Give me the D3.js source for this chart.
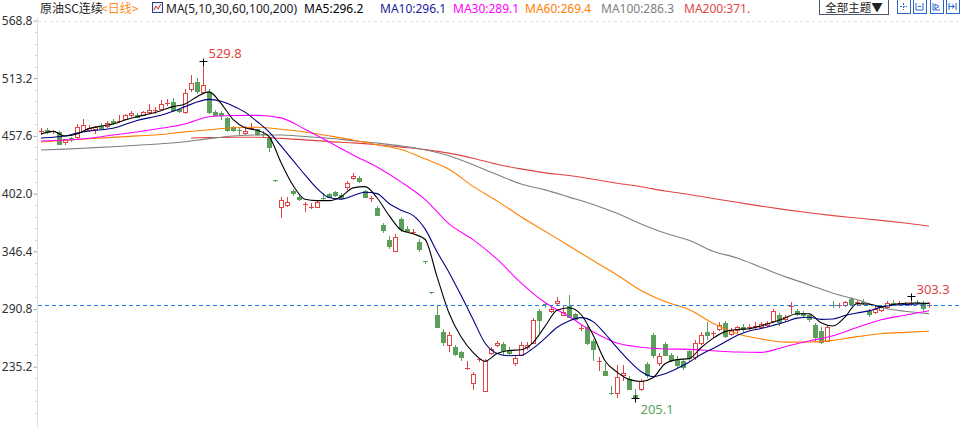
<!DOCTYPE html>
<html>
<head>
<meta charset="utf-8">
<script src="https://cdn.jsdelivr.net/npm/d3@7"></script>
<style>
  body { margin: 0; background: #fff; }
  svg { display: block; font-family: "Noto Sans", "Noto Sans CJK SC", sans-serif; }
</style>
</head>
<body>
<svg id="chart" width="960" height="428"></svg>
<script>
// 1) Data --------------------------------------------------------------
// daily candles, oldest first (day index 0..148)
const open = [
  462.0, 463.3, 461.8, 461.3, 451.7, 455.2, 456.8, 462.6, 463.3, 463.9,
  467.1, 467.1, 471.6, 471.0, 474.2, 477.4, 478.1, 478.1, 480.6, 481.9,
  483.2, 488.3, 490.2, 483.2, 480.6, 502.5, 509.5, 499.9, 499.9, 480.6,
  479.3, 474.8, 466.5, 463.2, 460.1, 464.8, 463.9, 459.2, 456.2, 415.0,
  389.4, 391.3, 404.2, 399.1, 390.7, 388.8, 389.4, 398.2, 401.6, 403.6,
  401.0, 408.7, 417.0, 417.0, 404.2, 396.8, 388.1, 371.4, 357.3, 347.0,
  377.8, 368.2, 364.6, 355.3, 336.6, 306.9, 285.3, 268.6, 255.8, 253.8,
  249.4, 233.6, 219.2, 242.0, 211.5, 248.7, 255.8, 257.1, 251.3, 239.1,
  246.8, 254.5, 258.3, 288.5, 295.2, 289.2, 296.3, 285.3, 293.7, 286.0,
  271.5, 273.8, 260.3, 240.1, 231.4, 210.0, 209.5, 227.5, 223.0, 207.5,
  213.4, 237.8, 265.4, 238.4, 257.1, 246.2, 242.6, 240.4, 250.6, 244.2,
  258.3, 268.6, 267.0, 271.2, 277.6, 266.7, 270.5, 273.8, 272.8, 274.0,
  273.8, 275.0, 278.9, 285.3, 280.8, 293.4, 288.5, 287.3, 285.3, 275.7,
  269.9, 260.3, 294.6, 294.0, 295.0, 300.1, 296.6, 297.8, 289.2, 287.9,
  289.8, 293.0, 296.6, 296.0, 295.9, 295.6, 297.8, 296.3, 293.9
];
const high = [
  464.9, 465.2, 463.3, 462.6, 454.9, 456.5, 469.0, 473.6, 467.8, 467.1,
  470.3, 472.3, 473.6, 477.4, 478.7, 481.3, 480.0, 481.9, 488.3, 485.1,
  492.2, 492.8, 494.1, 483.9, 503.1, 516.6, 513.4, 529.8, 502.5, 482.5,
  481.3, 476.1, 467.5, 465.0, 467.1, 470.3, 464.6, 462.6, 456.9, 415.2,
  398.4, 398.4, 406.1, 400.3, 393.9, 392.6, 395.2, 402.3, 402.9, 404.8,
  402.3, 414.4, 422.2, 418.9, 405.4, 399.7, 390.0, 373.3, 361.1, 363.0,
  379.1, 370.8, 367.6, 357.9, 336.8, 307.0, 293.7, 271.2, 268.6, 256.4,
  250.6, 241.0, 230.1, 243.6, 242.3, 254.5, 259.6, 259.0, 253.8, 245.5,
  259.0, 259.0, 282.1, 291.1, 296.9, 293.7, 302.7, 294.3, 304.6, 287.3,
  275.7, 275.7, 262.2, 244.2, 239.1, 216.6, 236.5, 236.5, 226.2, 214.0,
  223.0, 239.7, 267.3, 248.1, 259.0, 248.7, 245.5, 242.3, 252.6, 260.9,
  268.6, 278.3, 269.9, 278.3, 278.9, 272.5, 274.4, 276.3, 276.3, 278.3,
  278.3, 279.6, 291.1, 287.3, 284.7, 297.5, 291.1, 288.5, 287.3, 277.0,
  273.8, 274.4, 298.8, 296.3, 298.8, 302.0, 299.5, 300.1, 291.1, 293.7,
  294.3, 298.8, 299.5, 298.2, 297.5, 303.3, 299.5, 298.2, 297.5
];
const low = [
  459.4, 460.7, 460.7, 449.8, 450.1, 452.4, 454.3, 462.0, 462.0, 460.7,
  464.6, 466.5, 469.0, 470.7, 473.6, 476.8, 475.5, 477.4, 480.0, 480.0,
  482.5, 487.7, 481.9, 480.6, 479.3, 500.5, 498.6, 498.6, 479.3, 477.4,
  474.2, 462.0, 462.3, 459.6, 459.4, 464.6, 458.8, 456.9, 443.4, 413.8,
  379.8, 390.0, 400.3, 395.8, 385.6, 388.2, 388.8, 396.5, 398.4, 399.7,
  397.1, 406.7, 416.4, 413.2, 398.4, 394.6, 381.0, 365.0, 349.6, 347.0,
  365.6, 365.6, 363.7, 347.0, 335.6, 306.0, 273.1, 255.8, 250.6, 246.8,
  241.6, 233.3, 214.0, 240.4, 211.5, 247.4, 255.1, 247.4, 247.4, 236.5,
  246.2, 252.6, 257.7, 268.6, 293.0, 287.9, 295.6, 284.7, 282.8, 280.2,
  270.5, 257.1, 241.6, 232.0, 226.9, 208.9, 206.2, 222.4, 213.4, 205.1,
  212.7, 225.6, 244.9, 237.2, 246.2, 240.4, 234.6, 233.3, 241.6, 242.9,
  257.1, 262.2, 263.5, 270.5, 264.1, 265.4, 268.6, 269.9, 271.2, 272.5,
  272.5, 274.4, 278.2, 275.7, 278.9, 286.6, 284.7, 284.0, 278.9, 259.6,
  258.3, 259.6, 292.4, 293.0, 293.7, 294.9, 295.0, 295.6, 284.0, 287.3,
  289.2, 291.7, 294.3, 294.3, 294.3, 295.0, 295.6, 289.8, 293.0
];
const close = [
  462.3, 461.3, 462.2, 450.1, 454.3, 454.3, 466.5, 468.4, 465.2, 465.8,
  465.2, 469.7, 469.7, 471.9, 477.4, 479.3, 476.1, 480.6, 482.5, 482.9,
  488.3, 489.3, 482.5, 481.3, 498.6, 508.2, 500.5, 506.3, 480.6, 478.1,
  477.4, 463.3, 463.3, 462.4, 462.6, 465.4, 459.4, 458.6, 446.6, 414.0,
  395.8, 393.9, 403.0, 397.1, 391.6, 389.4, 393.9, 397.4, 399.0, 400.3,
  397.8, 412.5, 418.9, 414.4, 399.0, 397.4, 381.7, 366.9, 351.5, 359.8,
  368.2, 366.3, 365.2, 348.3, 336.0, 306.3, 273.8, 259.0, 265.4, 247.4,
  244.9, 234.2, 228.2, 242.6, 240.4, 251.9, 257.7, 251.3, 248.1, 243.6,
  256.4, 255.8, 280.2, 280.2, 294.6, 291.1, 298.8, 287.9, 283.4, 281.5,
  272.1, 257.7, 251.9, 240.7, 227.5, 209.2, 224.9, 229.4, 214.0, 206.3,
  221.7, 226.9, 246.2, 245.5, 246.8, 241.6, 236.8, 234.6, 243.6, 257.7,
  265.4, 266.1, 267.6, 275.7, 264.8, 270.5, 273.1, 271.2, 273.4, 274.8,
  276.3, 277.6, 288.5, 278.2, 283.4, 294.0, 286.0, 284.7, 280.8, 264.1,
  259.0, 273.1, 294.0, 294.6, 297.5, 295.6, 297.2, 297.2, 286.0, 291.1,
  293.0, 296.3, 296.0, 296.6, 295.3, 296.9, 297.2, 291.7, 294.7
];

// moving averages, fast ones every 2nd day, slow ones every 4th
const fastDays = [
  0, 2, 4, 6, 8, 10, 12, 14, 16, 18, 20, 22, 24, 26, 28, 30, 32, 34, 36, 38,
  40, 42, 44, 46, 48, 50, 52, 54, 56, 58, 60, 62, 64, 66, 68, 70, 72, 74, 76, 78,
  80, 82, 84, 86, 88, 90, 92, 94, 96, 98, 100, 102, 104, 106, 108, 110, 112, 114, 116, 118,
  120, 122, 124, 126, 128, 130, 132, 134, 136, 138, 140, 142, 144, 146, 148
];
const ma5 = [
  459.4, 462.0, 457.5, 459.4, 464.6, 467.1, 469.1, 472.9, 476.1, 478.7,
  481.9, 485.8, 488.3, 495.4, 500.0, 489.0, 473.5, 465.5, 463.0, 457.0,
  432.0, 410.0, 396.5, 395.2, 395.2, 399.0, 407.5, 408.7, 398.0, 381.0,
  367.0, 363.3, 358.0, 322.0, 287.0, 264.0, 249.0, 240.5, 248.0, 250.8,
  251.5, 258.5, 274.0, 289.5, 292.0, 285.5, 266.0, 241.0, 230.0, 223.0,
  221.0, 224.5, 238.0, 242.0, 243.0, 253.5, 262.5, 269.0, 271.0, 271.8,
  274.5, 278.0, 282.2, 286.2, 286.2, 277.5, 274.4, 283.0, 296.0, 295.5,
  293.0, 295.0, 296.3, 296.6, 296.2
];
const ma10 = [
  455.6, 456.3, 457.5, 460.3, 462.3, 463.5, 465.0, 468.5, 472.5, 475.0,
  477.5, 481.3, 485.8, 490.2, 492.8, 491.0, 486.5, 480.5, 471.5, 461.5,
  448.0, 434.0, 420.0, 407.0, 398.2, 396.5, 400.0, 403.3, 402.0, 392.5,
  386.0, 381.0, 368.0, 346.0, 326.0, 304.0, 281.0, 258.0, 248.0, 245.8,
  246.2, 252.9, 262.5, 273.0, 279.3, 282.5, 278.6, 267.0, 253.5, 241.0,
  230.5, 225.6, 228.5, 233.5, 239.5, 247.0, 252.8, 259.0, 265.2, 269.6,
  272.0, 275.0, 278.3, 282.0, 282.8, 280.8, 281.2, 284.5, 287.0, 289.0,
  292.6, 294.5, 295.1, 295.6, 296.1
];
const slowDays = [
  0, 4, 8, 12, 16, 20, 24, 28, 32, 36, 40, 44, 48, 52, 56, 60, 64, 68, 72, 76,
  80, 84, 88, 92, 96, 100, 104, 108, 112, 116, 120, 124, 128, 132, 136, 140, 144, 148
];
const ma30 = [
  452.7, 453.6, 455.4, 458.5, 461.4, 464.9, 469.1, 476.1, 477.2, 477.4,
  475.0, 464.0, 451.8, 439.3, 427.6, 413.3, 396.5, 372.8, 357.7, 338.9,
  316.0, 297.0, 283.5, 268.8, 258.0, 254.0, 252.3, 251.9, 250.5, 249.3,
  249.0, 254.5, 260.0, 265.0, 273.0, 280.5, 284.8, 289.1
];
const ma60 = [
  451.7, 453.4, 454.8, 456.2, 457.6, 459.0, 461.5, 463.5, 465.5, 466.0,
  464.0, 461.4, 457.7, 453.7, 449.0, 444.5, 435.5, 425.5, 409.0, 395.0,
  379.7, 365.7, 351.7, 337.5, 323.6, 308.6, 298.0, 290.2, 277.0, 266.9,
  262.0, 258.9, 259.0, 260.6, 264.2, 267.0, 268.3, 269.4
];
const ma100 = [
  444.0, 444.9, 446.0, 447.2, 448.6, 450.0, 452.0, 455.0, 457.5, 458.5,
  458.5, 457.0, 455.3, 453.0, 450.7, 448.0, 444.3, 438.5, 429.8, 420.3,
  411.2, 405.6, 398.6, 391.5, 383.0, 372.8, 364.0, 357.0, 346.5, 340.0,
  331.0, 322.0, 314.2, 306.0, 299.8, 292.3, 288.6, 286.3
];
const ma200Days = [
  25, 28, 32, 36, 40, 44, 48, 52, 56, 60, 64, 68, 72, 76, 80, 84, 88, 92, 96, 100,
  104, 108, 112, 116, 120, 124, 128, 132, 136, 140, 144, 148
];
const ma200 = [
  455.6, 455.9, 456.3, 456.3, 455.2, 453.8, 452.1, 450.9, 449.1, 446.8,
  444.4, 441.0, 436.1, 430.3, 425.8, 422.0, 419.4, 415.8, 412.0, 408.6,
  404.5, 401.2, 397.3, 393.6, 389.9, 386.6, 383.5, 380.8, 378.5, 376.2,
  373.6, 370.8
];

// price axis labels and legend
const yTicks = [568.8, 513.2, 457.6, 402.0, 346.4, 290.8, 235.2];
const maNames = ['MA5', 'MA10', 'MA30', 'MA60', 'MA100', 'MA200'];
const maLast = ['296.2', '296.1', '289.1', '269.4', '286.3', '371.'];
const maColors = ['#000000', '#000080', '#ff00ff', '#ff8000', '#808080', '#e04444'];

// 2) Setup -------------------------------------------------------------
const width = 960, height = 428;
const svg = d3.select('#chart');
const upColor = '#e04444';
const downColor = '#5b9f5a';

const x = d3.scaleLinear().domain([0, open.length - 1]).range([41, 929]);
const y = d3.scaleLinear().domain([235.2, 568.8]).range([366.7, 20.5]);

svg.append('defs').append('clipPath').attr('id', 'plot')
  .append('rect').attr('x', 38).attr('y', 18).attr('width', width - 38).attr('height', height - 18);

// 3) Axis --------------------------------------------------------------
svg.append('line')
  .attr('x1', 38).attr('x2', width)
  .attr('y1', Math.round(y(568.8)) + 0.5).attr('y2', Math.round(y(568.8)) + 0.5)
  .attr('stroke', '#e4e4e4').attr('stroke-dasharray', '3,3');

const minor = d3.range(-20, 40).map(k => 235.2 + k * 11.12)
  .filter(v => y(v) > 22 && y(v) < height - 4);
svg.append('g').selectAll('line').data(minor).join('line')
  .attr('x1', 35).attr('x2', 37)
  .attr('y1', d => Math.round(y(d)) + 0.5).attr('y2', d => Math.round(y(d)) + 0.5)
  .attr('stroke', '#c8d0dc');

const axis = svg.append('g')
  .attr('transform', 'translate(37.5,0)')
  .call(d3.axisLeft(y).tickValues(yTicks).tickFormat(d3.format('.1f')).tickSize(4).tickPadding(1));
axis.select('.domain').remove();
axis.selectAll('.tick line').attr('stroke', '#9fb0c8');
axis.selectAll('.tick text')
  .attr('fill', '#333').attr('font-size', 12)
  .attr('font-family', '"Noto Sans", sans-serif');
svg.append('line')
  .attr('x1', 37.5).attr('x2', 37.5).attr('y1', 18).attr('y2', height)
  .attr('stroke', '#e2e2e2');

// 4) Candles -----------------------------------------------------------
const plot = svg.append('g').attr('clip-path', 'url(#plot)');
const days = d3.range(open.length);
const px = i => Math.round(x(i));

const candle = plot.selectAll('g.candle').data(days).join('g').attr('class', 'candle');

candle.each(function (i) {
  const g = d3.select(this);
  const o = open[i], c = close[i], h = high[i], l = low[i];
  const cx = px(i);
  const top = Math.round(y(Math.max(o, c)));
  const bot = Math.round(y(Math.min(o, c)));
  const up = c >= o;
  const col = up ? upColor : downColor;
  if (bot - top < 2) {
    // cross
    g.append('line').attr('x1', cx + 0.5).attr('x2', cx + 0.5)
      .attr('y1', Math.round(y(h))).attr('y2', Math.round(y(l)) + 1).attr('stroke', col);
    g.append('rect').attr('x', cx - 2).attr('y', top).attr('width', 5).attr('height', Math.max(1, bot - top))
      .attr('fill', col);
  } else if (up) {
    g.append('line').attr('x1', cx + 0.5).attr('x2', cx + 0.5)
      .attr('y1', Math.round(y(h))).attr('y2', top).attr('stroke', col);
    g.append('line').attr('x1', cx + 0.5).attr('x2', cx + 0.5)
      .attr('y1', bot).attr('y2', Math.round(y(l)) + 1).attr('stroke', col);
    g.append('rect').attr('x', cx - 1.5).attr('y', top + 0.5)
      .attr('width', 4).attr('height', bot - top)
      .attr('fill', '#fff').attr('stroke', col);
  } else {
    g.append('line').attr('x1', cx + 0.5).attr('x2', cx + 0.5)
      .attr('y1', Math.round(y(h))).attr('y2', Math.round(y(l)) + 1).attr('stroke', col);
    g.append('rect').attr('x', cx - 2).attr('y', top)
      .attr('width', 5).attr('height', bot - top + 1).attr('fill', col);
  }
});

// 5) Moving averages ---------------------------------------------------
const maSeries = [
  { days: fastDays, vals: ma5, color: maColors[0] },
  { days: fastDays, vals: ma10, color: maColors[1] },
  { days: slowDays, vals: ma30, color: maColors[2] },
  { days: slowDays, vals: ma60, color: maColors[3] },
  { days: slowDays, vals: ma100, color: maColors[4] },
  { days: ma200Days, vals: ma200, color: maColors[5] }
];
const line = d3.line().x(d => x(d[0])).y(d => y(d[1])).curve(d3.curveMonotoneX);
plot.selectAll('path.ma').data(maSeries.slice().reverse()).join('path')
  .attr('class', 'ma')
  .attr('d', s => line(s.days.map((dd, k) => [dd, s.vals[k]])))
  .attr('fill', 'none')
  .attr('stroke', s => s.color)
  .attr('stroke-width', 1.1);

// 6) Last price line + extremes ----------------------------------------
const lastY = Math.round(y(close[close.length - 1])) + 0.5;
plot.append('line')
  .attr('x1', 38).attr('x2', width).attr('y1', lastY).attr('y2', lastY)
  .attr('stroke', '#1e7fe0').attr('stroke-dasharray', '4,3');

const hiIdx = d3.maxIndex(high), loIdx = d3.minIndex(low);
const lastHiIdx = 145;
const marks = [
  { i: hiIdx, v: high[hiIdx], color: upColor, dx: 5, dy: -4 },
  { i: loIdx, v: low[loIdx], color: downColor, dx: 5, dy: 15 },
  { i: lastHiIdx, v: high[lastHiIdx], color: upColor, dx: 5, dy: -3 }
];
marks.forEach(m => {
  const cx = px(m.i) + 0.5, cy = Math.round(y(m.v)) + 0.5;
  plot.append('line').attr('x1', cx - 4).attr('x2', cx + 4).attr('y1', cy).attr('y2', cy).attr('stroke', '#000');
  plot.append('line').attr('x1', cx).attr('x2', cx).attr('y1', cy - 3).attr('y2', cy + 4).attr('stroke', '#000');
  svg.append('text').attr('x', cx + m.dx).attr('y', cy + m.dy)
    .attr('fill', m.color).attr('font-size', 13)
    .text(m.v.toFixed(1));
});

// 7) Header ------------------------------------------------------------
const head = svg.append('g').attr('font-size', 12);
head.append('text').attr('x', 40).attr('y', 13).attr('fill', '#222')
  .attr('font-family', '"Noto Sans CJK SC", sans-serif').text('原油SC连续');
head.append('text').attr('x', 101).attr('y', 13).attr('fill', '#ff8c1a')
  .attr('font-family', '"Noto Sans CJK SC", sans-serif').text('<日线>');

// small chart icon
head.append('rect').attr('x', 152.5).attr('y', 2.5).attr('width', 10).attr('height', 10)
  .attr('fill', '#eef2fb').attr('stroke', '#23408e');
head.append('polyline').attr('points', '154,10 156,6 158,9 161,4')
  .attr('fill', 'none').attr('stroke', '#d02a2a');

head.append('text').attr('x', 166).attr('y', 13).attr('fill', '#222').text('MA(5,10,30,60,100,200)');
const legendX = [304, 380, 453, 525, 601, 684];
maNames.forEach((n, k) => {
  head.append('text').attr('x', legendX[k]).attr('y', 13)
    .attr('fill', k === 5 ? '#e04848' : (k === 1 ? '#1c1c9c' : maColors[k]))
    .text(n + ':' + maLast[k]);
});

// buttons on the right
head.append('rect').attr('x', 819.5).attr('y', -0.5).attr('width', 69).attr('height', 15)
  .attr('fill', '#fff').attr('stroke', '#4a5570');
head.append('text').attr('x', 854).attr('y', 12).attr('text-anchor', 'middle').attr('fill', '#222')
  .attr('font-size', 11.5)
  .attr('font-family', '"Noto Sans CJK SC", sans-serif').text('全部主题▼');

const btnX = [897, 913, 930, 946];
const btnIcons = [
  'M3,6.5H10 M6.5,3V10',
  'M3,3V10 M10,3V10 M3,10H10 M5,6.5H8',
  'M3,3V10 M3,10H10 M5,4L9,6.5L5,9Z',
  'M3,3V10 M3,6.5H8 M6,4.5L8.5,6.5L6,8.5 M10,3V10'
];
btnX.forEach((bx, k) => {
  const b = head.append('g').attr('transform', `translate(${bx},0)`);
  b.append('rect').attr('x', 0.5).attr('y', -0.5).attr('width', 13).attr('height', 14)
    .attr('fill', '#fff').attr('stroke', '#2a66c8');
  b.append('path').attr('d', btnIcons[k]).attr('fill', 'none').attr('stroke', '#2a66c8')
    .attr('stroke-dasharray', k === 0 ? '2,1' : null);
});
</script>
</body>
</html>
